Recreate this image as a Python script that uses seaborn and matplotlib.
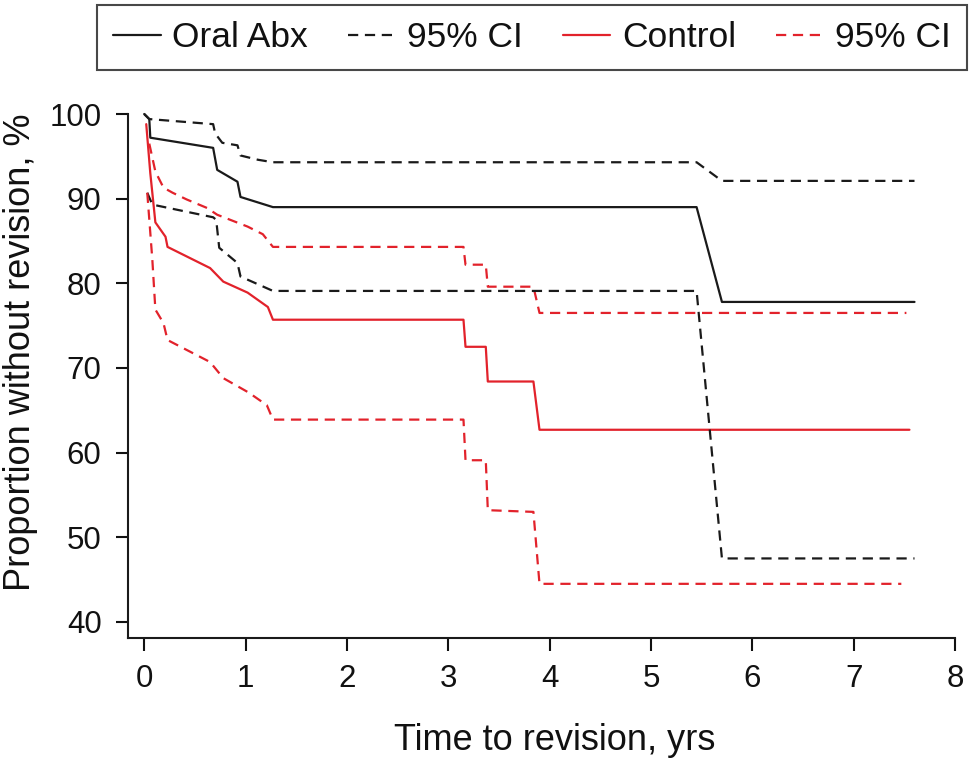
import numpy as np
import pandas as pd
import matplotlib
matplotlib.use("Agg")
import matplotlib.pyplot as plt
import seaborn as sns

# Kaplan-Meier curves (time in yrs, survival in %)
abx_t = [0, 0.05, 0.06, 0.68, 0.72, 0.92, 0.95, 1.27, 5.45, 5.70, 7.60]
abx_s = [100, 99.4, 97.2, 96.0, 93.4, 92.0, 90.2, 89.0, 89.0, 77.8, 77.8]

abx_hi_t = [0, 0.05, 0.68, 0.70, 0.77, 0.92, 0.95, 1.12, 1.27, 5.45, 5.70, 7.60]
abx_hi_s = [100, 99.4, 98.8, 97.7, 96.6, 96.3, 95.1, 94.6, 94.3, 94.3, 92.1, 92.1]

abx_lo_t = [0.03, 0.08, 0.68, 0.71, 0.74, 0.92, 0.95, 1.27, 5.45, 5.70, 7.60]
abx_lo_s = [90.7, 89.3, 87.8, 87.5, 84.2, 82.4, 80.8, 79.1, 79.1, 47.5, 47.5]

ctrl_t = [0.02, 0.06, 0.11, 0.21, 0.23, 0.65, 0.78, 1.02, 1.22, 1.27,
          3.15, 3.17, 3.37, 3.39, 3.84, 3.90, 7.55]
ctrl_s = [98.8, 93.0, 87.2, 85.5, 84.3, 81.8, 80.2, 78.9, 77.2, 75.7,
          75.7, 72.5, 72.5, 68.4, 68.4, 62.7, 62.7]

ctrl_hi_t = [0.05, 0.11, 0.19, 0.28, 0.42, 0.62, 0.72, 1.02, 1.17, 1.27,
             3.15, 3.17, 3.37, 3.39, 3.84, 3.90, 7.52]
ctrl_hi_s = [96.5, 93.2, 91.3, 90.7, 89.9, 88.9, 88.1, 86.7, 85.8, 84.3,
             84.3, 82.2, 82.2, 79.6, 79.6, 76.5, 76.5]

ctrl_lo_t = [0.03, 0.08, 0.11, 0.19, 0.23, 0.65, 0.78, 1.03, 1.21, 1.27,
             3.15, 3.17, 3.37, 3.39, 3.84, 3.90, 7.47]
ctrl_lo_s = [90.7, 82.8, 76.9, 75.3, 73.3, 70.7, 68.8, 67.1, 65.6, 63.9,
             63.9, 59.1, 59.1, 53.2, 53.0, 44.5, 44.5]

x_ticks = [0, 1, 2, 3, 4, 5, 6, 7, 8]
y_ticks = [40, 50, 60, 70, 80, 90, 100]

BLACK = "#1a1a1a"
RED = "#e2222b"

sns.set_style("ticks")
plt.rcParams["font.family"] = ["Liberation Sans", "DejaVu Sans"]
plt.rcParams["text.color"] = "#111111"
plt.rcParams["axes.labelcolor"] = "#111111"
plt.rcParams["xtick.color"] = "#111111"
plt.rcParams["ytick.color"] = "#111111"

fig = plt.figure(figsize=(9.69, 7.59), dpi=100)
ax = fig.add_axes([0.1321, 0.1594, 0.8535, 0.6904])

series = [
    (abx_t, abx_s, BLACK, "-", "Oral Abx"),
    (abx_hi_t, abx_hi_s, BLACK, "--", "95% CI"),
    (ctrl_t, ctrl_s, RED, "-", "Control"),
    (ctrl_hi_t, ctrl_hi_s, RED, "--", "95% CI"),
    (abx_lo_t, abx_lo_s, BLACK, "--", None),
    (ctrl_lo_t, ctrl_lo_s, RED, "--", None),
]

for t, s, col, ls, lab in series:
    sns.lineplot(x=t, y=s, ax=ax, color=col, linewidth=1.6, sort=False,
                 estimator=None, label=lab, clip_on=False)
    line = ax.lines[-1]
    if ls == "--":
        line.set_dashes((4.6, 3.0))

ax.set_xlim(-0.16, 8)
ax.set_ylim(38.1, 100)
ax.set_xticks(x_ticks)
ax.set_yticks(y_ticks)
ax.tick_params(labelsize=22.5, length=9, width=1.5, pad=10)
for sp in ["left", "bottom"]:
    ax.spines[sp].set_linewidth(1.5)
    ax.spines[sp].set_color(BLACK)
sns.despine(ax=ax)

ax.set_xlabel("Time to revision, yrs", fontsize=26, va="baseline")
ax.set_ylabel("Proportion without revision, %", fontsize=26)
ax.xaxis.set_label_coords(0.516, -0.2137)
ax.yaxis.set_label_coords(-0.109, 0.546)

handles, labels = ax.get_legend_handles_labels()
ax.get_legend().remove()
leg = fig.legend(handles, labels, ncol=4, loc="lower left",
                 bbox_to_anchor=(97 / 969, 1 - 70 / 759, 870 / 969, 68 / 759),
                 mode="expand", fontsize=25.5, frameon=True, fancybox=False,
                 edgecolor=BLACK, handlelength=1.35, handletextpad=0.33,
                 borderpad=0.45, borderaxespad=0)
leg.get_frame().set_linewidth(1.5)

fig.savefig("out.png", dpi=100)
